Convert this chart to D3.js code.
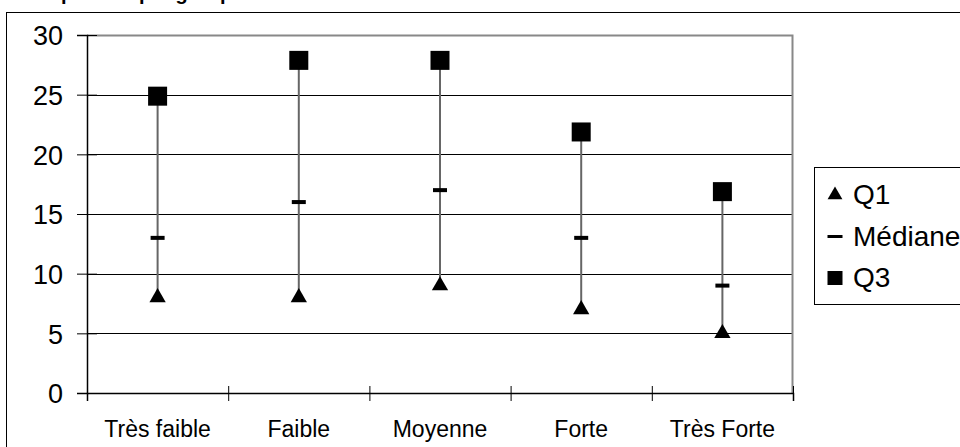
<!DOCTYPE html>
<html>
<head>
<meta charset="utf-8">
<script src="https://cdn.jsdelivr.net/npm/d3@7"></script>
<style>
  body { margin: 0; background: #fff; }
  svg { display: block; font-family: "Liberation Sans", Arial, sans-serif; }
</style>
</head>
<body>
<div id="chart"></div>
<script>
// Chart data
var categories = ["Très faible", "Faible", "Moyenne", "Forte", "Très Forte"];
var q1Values = [8, 8, 9, 7, 5];
var medianValues = [13, 16, 17, 13, 9];
var q3Values = [25, 28, 28, 22, 17];
var yTicks = [0, 5, 10, 15, 20, 25, 30];
var legendLabels = ["Q1", "Médiane", "Q3"];

var svgWidth = 960;
var svgHeight = 447;

// plot area in pixels
var plot = { left: 87, right: 793, top: 35, bottom: 393 };

var svg = d3.select("#chart")
  .append("svg")
  .attr("width", svgWidth)
  .attr("height", svgHeight);

// title, mostly cut off above the window as in the original
svg.append("text")
  .attr("x", 30)
  .attr("y", 0)
  .attr("font-size", 20)
  .attr("font-weight", "bold")
  .text("Dispersion par groupe");

// outer chart border (clipped on right and bottom)
svg.append("rect")
  .attr("x", 6.5)
  .attr("y", 12.5)
  .attr("width", 1000)
  .attr("height", 500)
  .attr("fill", "none")
  .attr("stroke", "#000")
  .attr("stroke-width", 1);

// scales
var xScale = d3.scaleBand()
  .domain(categories)
  .range([plot.left, plot.right])
  .padding(0);

var xBoundary = d3.scaleLinear()
  .domain([0, categories.length])
  .range([plot.left, plot.right]);

var yScale = d3.scaleLinear()
  .domain([0, 30])
  .range([plot.bottom, plot.top]);

// gridlines
svg.append("g")
  .selectAll("line")
  .data(yTicks.filter(d => d > 0 && d < 30))
  .enter()
  .append("line")
  .attr("x1", plot.left)
  .attr("x2", plot.right)
  .attr("y1", d => Math.round(yScale(d)) + 0.5)
  .attr("y2", d => Math.round(yScale(d)) + 0.5)
  .attr("stroke", "#000")
  .attr("stroke-width", 1);

// plot border (grey, top and right)
svg.append("path")
  .attr("d", `M${plot.left},${plot.top + 0.5}H${plot.right - 0.5}V${plot.bottom}`)
  .attr("fill", "none")
  .attr("stroke", "#888")
  .attr("stroke-width", 2);

// y axis
var yAxis = svg.append("g")
  .attr("transform", `translate(${plot.left}, 0)`)
  .call(d3.axisLeft(yScale).tickValues(yTicks).tickSize(10).tickPadding(14));

yAxis.select(".domain")
  .attr("stroke", "#000")
  .attr("stroke-width", 1.5);

yAxis.selectAll(".tick line")
  .attr("x1", -10)
  .attr("x2", 10)
  .attr("stroke", "#000");

yAxis.selectAll(".tick text")
  .attr("font-size", 27)
  .attr("font-family", "Liberation Sans, Arial, sans-serif")
  .attr("fill", "#000")
  .attr("dy", "0.36em");

// x axis: boundary ticks
var xTickAxis = svg.append("g")
  .attr("transform", `translate(0, ${plot.bottom})`)
  .call(d3.axisBottom(xBoundary).ticks(categories.length).tickFormat("").tickSize(8));

xTickAxis.select(".domain")
  .attr("stroke", "#000")
  .attr("stroke-width", 1.5);

xTickAxis.selectAll(".tick line")
  .attr("y1", -7)
  .attr("y2", 8)
  .attr("stroke", "#000");

// x axis: category labels
var xLabelAxis = svg.append("g")
  .attr("transform", `translate(0, ${plot.bottom})`)
  .call(d3.axisBottom(xScale).tickSize(0).tickPadding(28));

xLabelAxis.select(".domain").remove();

xLabelAxis.selectAll(".tick text")
  .attr("font-size", 23)
  .attr("font-family", "Liberation Sans, Arial, sans-serif")
  .attr("fill", "#000");

// whiskers from Q1 to Q3
var cx = i => xScale(categories[i]) + xScale.bandwidth() / 2;

svg.append("g")
  .selectAll("line")
  .data(categories)
  .enter()
  .append("line")
  .attr("x1", (d, i) => cx(i))
  .attr("x2", (d, i) => cx(i))
  .attr("y1", (d, i) => yScale(q1Values[i]))
  .attr("y2", (d, i) => yScale(q3Values[i]))
  .attr("stroke", "#666")
  .attr("stroke-width", 2);

// markers
var triangle = d3.symbol().type(d3.symbolTriangle).size(115);

svg.append("g")
  .selectAll("path")
  .data(q1Values)
  .enter()
  .append("path")
  .attr("d", triangle)
  .attr("transform", (d, i) => `translate(${cx(i)}, ${yScale(d)})`)
  .attr("fill", "#000");

svg.append("g")
  .selectAll("rect")
  .data(medianValues)
  .enter()
  .append("rect")
  .attr("x", (d, i) => cx(i) - 7)
  .attr("y", d => yScale(d) - 2)
  .attr("width", 14)
  .attr("height", 4)
  .attr("fill", "#000");

svg.append("g")
  .selectAll("rect")
  .data(q3Values)
  .enter()
  .append("rect")
  .attr("x", (d, i) => cx(i) - 9.5)
  .attr("y", d => yScale(d) - 8)
  .attr("width", 19)
  .attr("height", 19)
  .attr("fill", "#000");

// legend
var legend = svg.append("g");

legend.append("rect")
  .attr("x", 814.5)
  .attr("y", 167.5)
  .attr("width", 300)
  .attr("height", 137)
  .attr("fill", "#fff")
  .attr("stroke", "#000")
  .attr("stroke-width", 1);

var legendRows = legend.selectAll("g.row")
  .data(legendLabels)
  .enter()
  .append("g")
  .attr("class", "row")
  .attr("transform", (d, i) => `translate(835, ${195 + i * 41.5})`);

legendRows.append("text")
  .attr("x", 18)
  .attr("y", 9)
  .attr("font-size", 28)
  .attr("fill", "#000")
  .text(d => d);

legendRows.filter((d, i) => i === 0)
  .append("path")
  .attr("d", d3.symbol().type(d3.symbolTriangle).size(95))
  .attr("fill", "#000");

legendRows.filter((d, i) => i === 1)
  .append("rect")
  .attr("x", -7.5)
  .attr("y", -1.5)
  .attr("width", 15)
  .attr("height", 3)
  .attr("fill", "#000");

legendRows.filter((d, i) => i === 2)
  .append("rect")
  .attr("x", -7.5)
  .attr("y", -7)
  .attr("width", 15)
  .attr("height", 14)
  .attr("fill", "#000");
</script>
</body>
</html>
